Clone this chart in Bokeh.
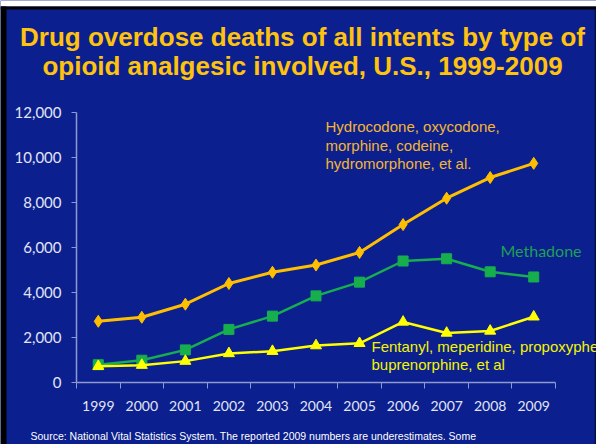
from bokeh.plotting import figure
from bokeh.models import (Range1d, FixedTicker, NumeralTickFormatter, Label,
                          ColumnDataSource)
from bokeh.embed import file_html
from bokeh.resources import INLINE

# Opioid analgesic overdose deaths, U.S., 1999-2009
years = [1999, 2000, 2001, 2002, 2003, 2004, 2005, 2006, 2007, 2008, 2009]
hydrocodone = [2720, 2900, 3480, 4400, 4900, 5220, 5780, 7020, 8190, 9110, 9740]
methadone = [790, 990, 1450, 2360, 2950, 3850, 4460, 5400, 5500, 4920, 4690]
fentanyl = [720, 770, 950, 1290, 1390, 1640, 1740, 2690, 2200, 2290, 2920]

y_ticks = [0, 2000, 4000, 6000, 8000, 10000, 12000]

title_lines = ["Drug overdose deaths of all intents by type of",
               "opioid analgesic involved, U.S., 1999-2009"]
hydro_label = ["Hydrocodone, oxycodone,", "morphine, codeine,",
               "hydromorphone, et al."]
metha_label = "Methadone"
fent_label = ["Fentanyl, meperidine, propoxyphene,", "buprenorphine, et al"]
source_text = ("Source:  National Vital Statistics System. The reported 2009 "
               "numbers are underestimates.  Some")

W, H = 596, 444
# slide geometry (pixels from top-left): plot area box
AX_LEFT, AX_RIGHT, AX_TOP, AX_BOTTOM = 76, 555, 112, 382
X0, X1 = years[0] - 0.5, years[-1] + 0.5
Y0, Y1 = y_ticks[0], y_ticks[-1]
sx = (AX_RIGHT - AX_LEFT) / (X1 - X0)
sy = (AX_BOTTOM - AX_TOP) / (Y1 - Y0)

BG = "#0b208e"
ORANGE = "#FFBF00"
GREEN = "#17AE4E"
YELLOW = "#FFFF00"
AXIS = "#9099cf"
TICKTXT = "#e2e5f6"

# The frame fills the whole canvas; axes are pinned with fixed_location.
p = figure(width=W, height=H, output_backend="svg", toolbar_location=None,
           x_range=Range1d(X0 - AX_LEFT / sx, X1 + (W - AX_RIGHT) / sx),
           y_range=Range1d(Y0 - (H - AX_BOTTOM) / sy, Y1 + AX_TOP / sy),
           min_border=0)
p.background_fill_color = BG
p.border_fill_color = BG
p.outline_line_color = None
p.grid.visible = False


def px_x(px):
    return X0 + (px - AX_LEFT) / sx


def px_y(py):
    return Y0 + (AX_BOTTOM - py) / sy


# slide edge: white strip on top, thin dark border around the slide
p.quad(left=px_x(0), right=px_x(W), top=px_y(0), bottom=px_y(6),
       fill_color="#ffffff", line_color=None)
p.quad(left=px_x(0), right=px_x(W), top=px_y(6), bottom=px_y(9),
       fill_color="#000000", line_color=None)
p.quad(left=px_x(0), right=px_x(6), top=px_y(6), bottom=px_y(H),
       fill_color="#000000", line_color=None)
p.quad(left=px_x(W - 2), right=px_x(W), top=px_y(9), bottom=px_y(H),
       fill_color="#07104a", line_color=None)

# x axis: labels at year centres, tick marks between the years
xa = p.xaxis[0]
xa.fixed_location = Y0
xa.bounds = (X0, X1)
xa.ticker = FixedTicker(ticks=years,
                        minor_ticks=[y - 0.5 for y in years] + [years[-1] + 0.5])
xa.major_tick_out = 0
xa.major_tick_in = 0
xa.minor_tick_out = 6
xa.minor_tick_in = 0
xa.minor_tick_line_color = AXIS
xa.axis_line_color = AXIS
xa.axis_line_width = 1.5
xa.major_label_standoff = 12
xa.major_label_text_font = "Lato"
xa.major_label_text_font_size = "14px"
xa.major_label_text_color = TICKTXT

ya = p.yaxis[0]
ya.fixed_location = X0
ya.bounds = (Y0, Y1)
ya.ticker = FixedTicker(ticks=y_ticks)
ya.formatter = NumeralTickFormatter(format="0,0")
ya.major_tick_out = 5
ya.major_tick_in = 0
ya.minor_tick_out = 0
ya.minor_tick_in = 0
ya.major_tick_line_color = AXIS
ya.axis_line_color = AXIS
ya.axis_line_width = 1.5
ya.major_label_standoff = 10
ya.major_label_text_font = "Lato"
ya.major_label_text_font_size = "15px"
ya.major_label_text_color = TICKTXT

src = ColumnDataSource(dict(year=years, hydro=hydrocodone, metha=methadone,
                            fent=fentanyl))

p.line("year", "hydro", source=src, line_color=ORANGE, line_width=3)
p.scatter("year", "hydro", source=src, marker="diamond", size=12,
          fill_color=ORANGE, line_color=ORANGE)

p.line("year", "metha", source=src, line_color=GREEN, line_width=2.5)
p.scatter("year", "metha", source=src, marker="square", size=10,
          fill_color=GREEN, line_color=GREEN)

p.line("year", "fent", source=src, line_color=YELLOW, line_width=2.5)
p.scatter("year", "fent", source=src, marker="triangle", size=11,
          fill_color=YELLOW, line_color=YELLOW)


def add_text(txt, px, py, color, size, font="Liberation Sans", style="normal",
             align="left", baseline="middle"):
    """Place a text at slide pixel position (px, py)."""
    p.add_layout(Label(x=px, y=H - py, x_units="screen", y_units="screen",
                       text=txt, text_color=color, text_font=font,
                       text_font_size=size, text_font_style=style,
                       text_align=align, text_baseline=baseline))


add_text(title_lines[0], 302, 36, "#FFC20F", "26px", style="bold",
         align="center", baseline="alphabetic")
add_text(title_lines[1], 302, 65, "#FFC20F", "26px", style="bold",
         align="center", baseline="alphabetic")

for i, line in enumerate(hydro_label):
    add_text(line, 325, 126 + 18.5 * i, "#F3B534", "15px")

add_text(metha_label, 500, 250, "#1E9F55", "16px", font="Lato")

for i, line in enumerate(fent_label):
    add_text(line, 371, 346 + 18 * i, "#F4F400", "15px")

add_text(source_text, 30, 435, "#ffffff", "10.5px")

open("out.html", "w").write(file_html(p, INLINE))
